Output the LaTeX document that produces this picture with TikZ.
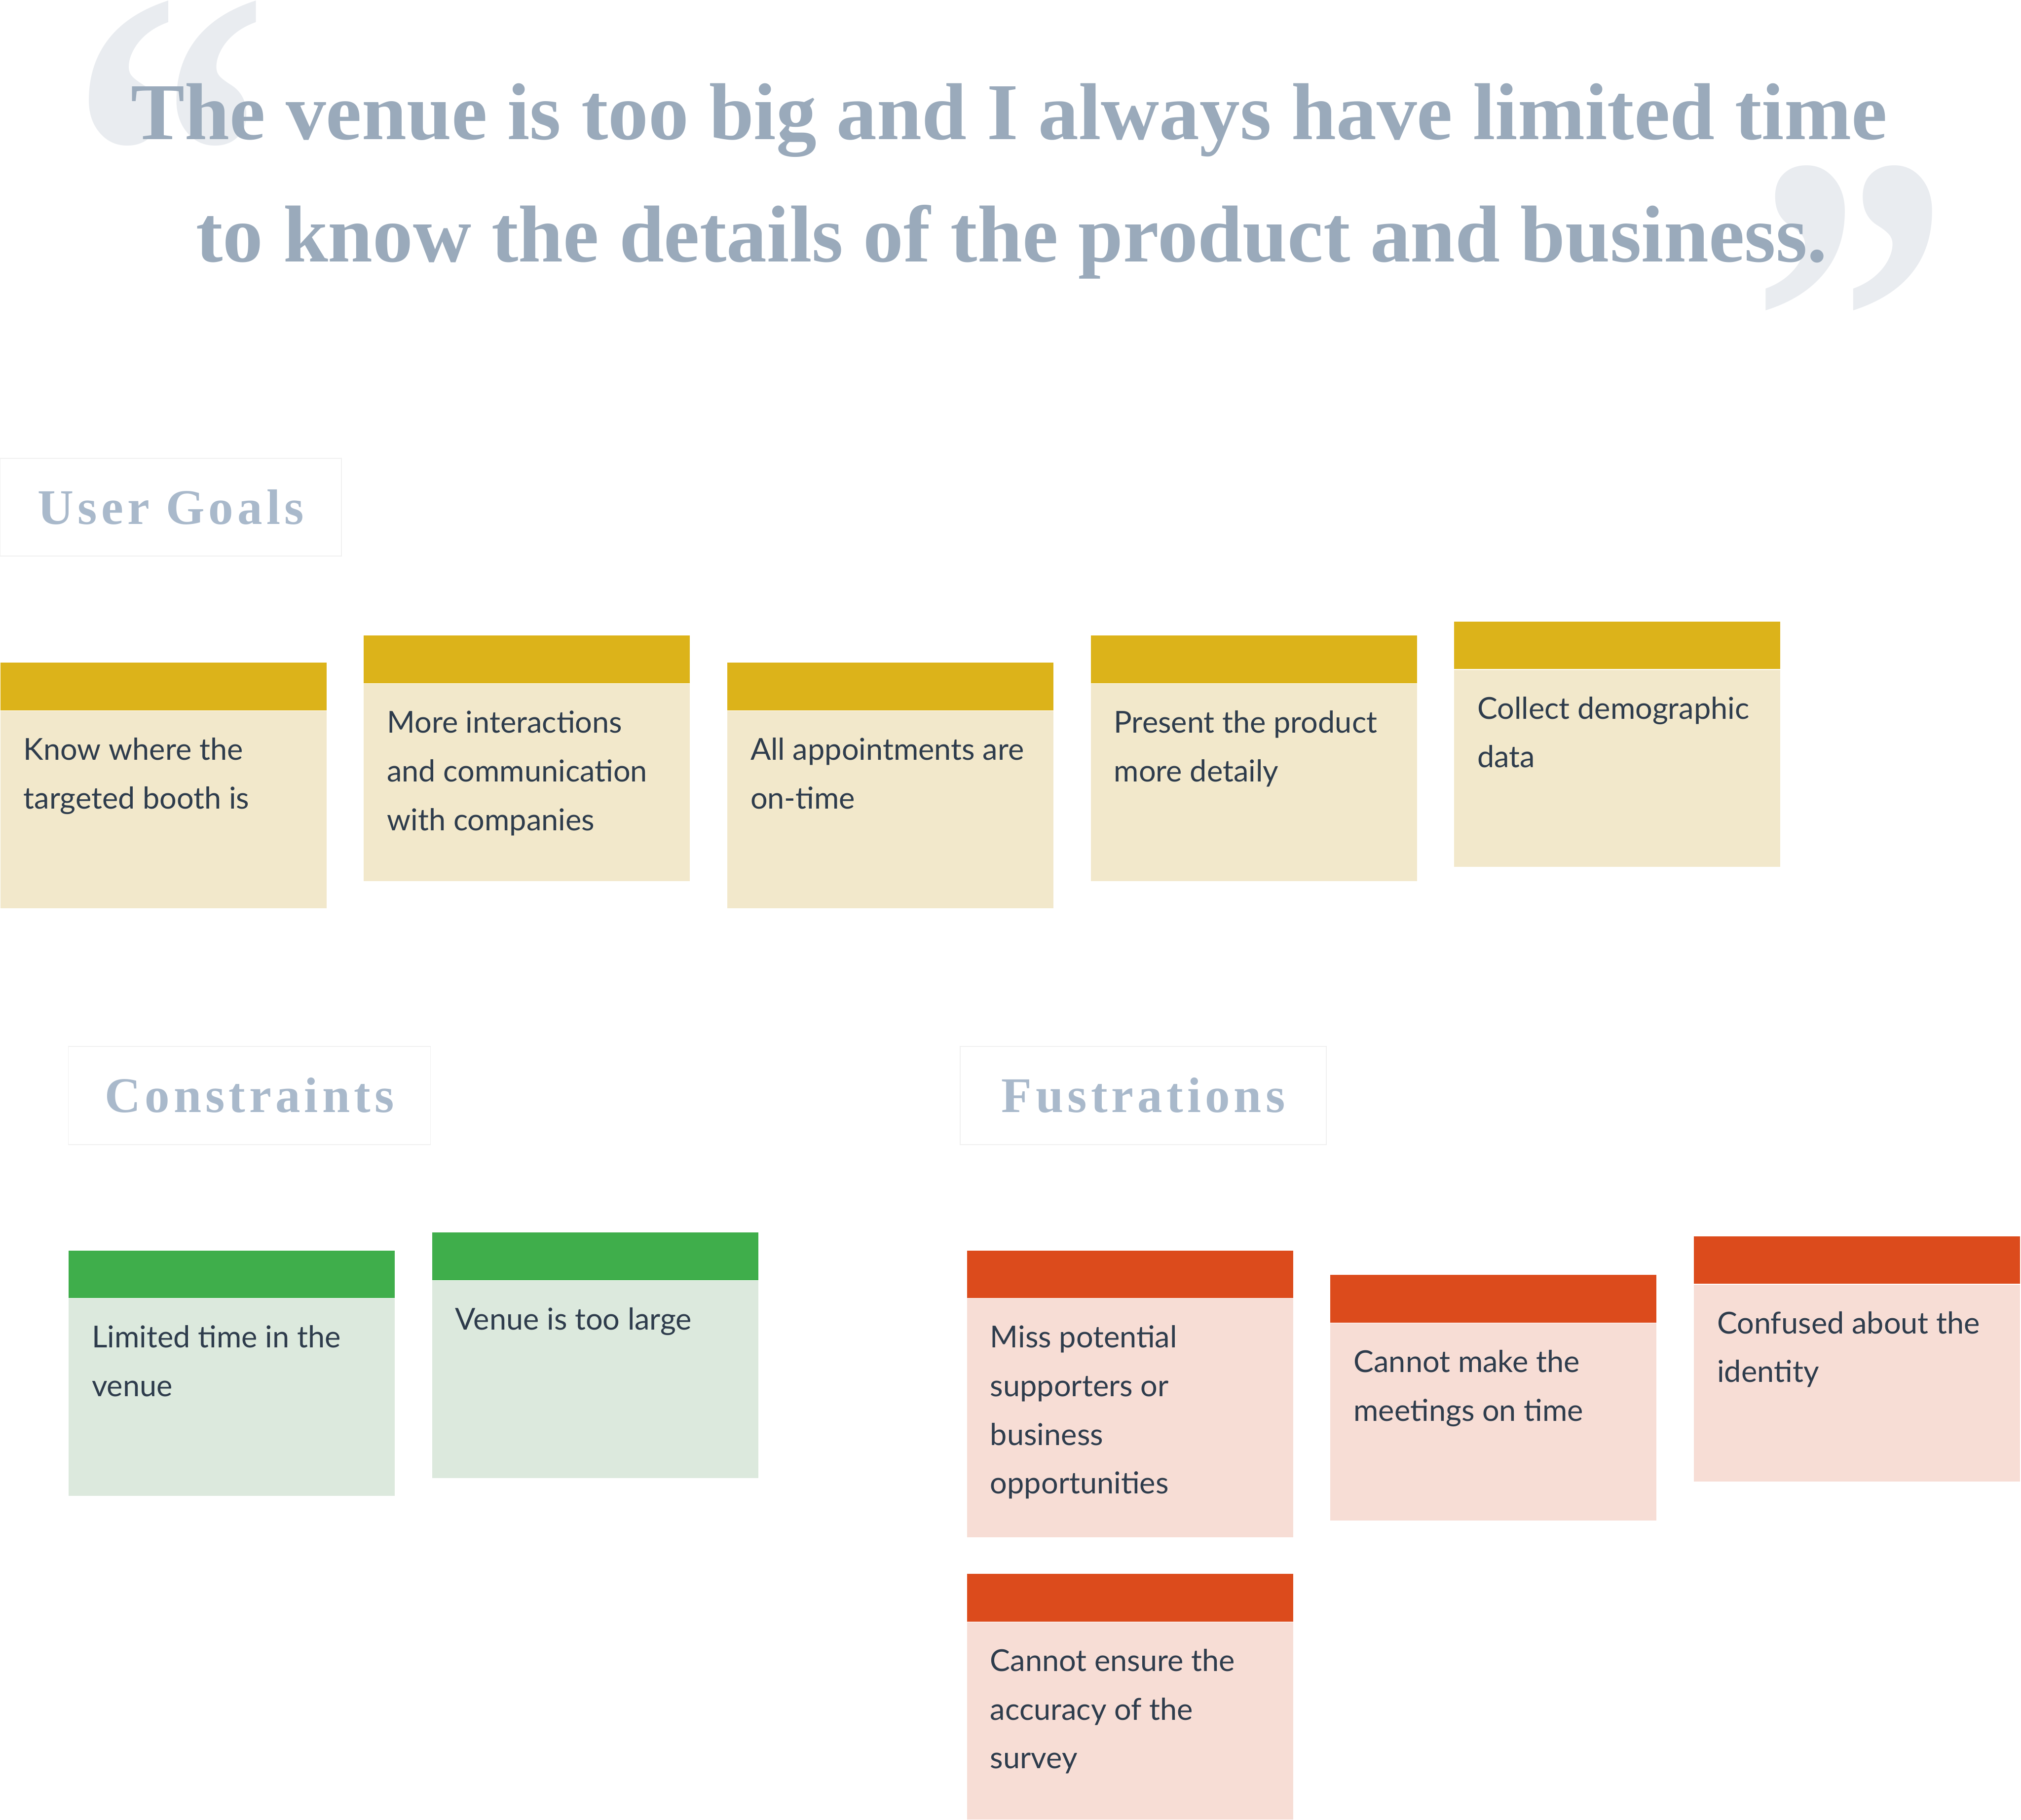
\documentclass[tikz,border=0pt]{standalone}
\usepackage{fontspec}
\usetikzlibrary{positioning}
\usepackage{xcolor}
\newfontfamily\latofont{Lato}
\newfontfamily\quotefont{Liberation Serif}
\newfontfamily\spacedfont{Liberation Serif}[LetterSpace=8]
\definecolor{goalgold}{HTML}{DCB31A}
\definecolor{goalcream}{HTML}{F2E8CB}
\definecolor{limitgreen}{HTML}{3FAE4B}
\definecolor{limitmint}{HTML}{DCE9DD}
\definecolor{frustred}{HTML}{DC4B1C}
\definecolor{frustpink}{HTML}{F7DDD5}
\definecolor{inkdark}{HTML}{2E3C4C}
\definecolor{titleslate}{HTML}{9AAABB}
\definecolor{headslate}{HTML}{A9B9CB}
\definecolor{quotegray}{HTML}{E9ECF0}
\definecolor{framegray}{HTML}{F0F0F0}

\begin{document}
\begin{tikzpicture}[
  x=0.03cm, y=-0.03cm,
  head/.style={
    rectangle, inner sep=0pt, anchor=north west,
    minimum width=7.59cm, minimum height=1.11cm
  },
  pad/.style={
    rectangle, inner sep=0pt,
    minimum width=7.59cm, minimum height=4.59cm
  },
  note/.style={
    inner sep=0pt, anchor=north west, align=left, text=inkdark,
    font=\latofont\fontsize{20}{32.2}\selectfont
  },
  section/.style={
    rectangle, draw=framegray, line width=0.6pt, inner sep=0pt,
    minimum height=2.28cm, text=headslate,
    font=\spacedfont\bfseries\fontsize{33}{40}\selectfont
  },
  bigquote/.style={
    inner sep=0pt, anchor=base west, text=quotegray,
    font=\quotefont\bfseries\fontsize{264}{264}\selectfont
  },
  title/.style={
    inner sep=0pt, anchor=base, text=titleslate,
    font=\quotefont\bfseries\fontsize{53.4}{60}\selectfont
  }
]
  \fill[white] (0,0) rectangle (1568,1412);
  \useasboundingbox (0,0) rectangle (1568,1412);

  % quote
  \node[bigquote] (qopen) at (53.9,248.4) {\scalebox{1}[1.204]{“}};
  \node[bigquote] (qclose) at (1358.3,376) {\scalebox{1}[1.204]{”}};
  \node[title] (title1) at (783,108) {The venue is too big and I always have limited time};
  \node[title] (title2) at (785,203) {to know the details of the product and business.};

  % section headings
  \node[section, minimum width=7.95cm] (goals) at (132.5,393.5) {User Goals};
  \node[section, minimum width=8.43cm] (limits) at (193.5,850) {Constraints};
  \node[section, minimum width=8.52cm] (frust) at (887,850) {Fustrations};

  % user goals
  \node[head, fill=goalgold] (g1h) at (0,514) {};
  \node[pad, fill=goalcream, below=0pt of g1h] (g1) {};
  \node[note, below right=10pt and 15.4pt of g1.north west] (g1t) {\strut Know where the\\targeted booth is};

  \node[head, fill=goalgold] (g2h) at (282,493) {};
  \node[pad, fill=goalcream, below=0pt of g2h] (g2) {};
  \node[note, below right=10pt and 15.4pt of g2.north west] (g2t) {\strut More interactions\\and communication\\with companies};

  \node[head, fill=goalgold] (g3h) at (564,514) {};
  \node[pad, fill=goalcream, below=0pt of g3h] (g3) {};
  \node[note, below right=10pt and 15.4pt of g3.north west] (g3t) {\strut All appointments are\\on-time};

  \node[head, fill=goalgold] (g4h) at (846,493) {};
  \node[pad, fill=goalcream, below=0pt of g4h] (g4) {};
  \node[note, below right=10pt and 15.4pt of g4.north west] (g4t) {\strut Present the product\\more detaily};

  \node[head, fill=goalgold] (g5h) at (1128,482) {};
  \node[pad, fill=goalcream, below=0pt of g5h] (g5) {};
  \node[note, below right=10pt and 15.4pt of g5.north west] (g5t) {\strut Collect demographic\\data};

  % constraints
  \node[head, fill=limitgreen] (c1h) at (53,970) {};
  \node[pad, fill=limitmint, below=0pt of c1h] (c1) {};
  \node[note, below right=10pt and 15.4pt of c1.north west] (c1t) {\strut Limited time in the\\venue};

  \node[head, fill=limitgreen] (c2h) at (335,956) {};
  \node[pad, fill=limitmint, below=0pt of c2h] (c2) {};
  \node[note, below right=10pt and 15.4pt of c2.north west] (c2t) {\strut Venue is too large};

  % fustrations
  \node[head, fill=frustred] (f1h) at (750,970) {};
  \node[pad, fill=frustpink, minimum height=5.55cm, below=0pt of f1h] (f1) {};
  \node[note, below right=10pt and 15.4pt of f1.north west] (f1t) {\strut Miss potential\\supporters or\\business\\opportunities};

  \node[head, fill=frustred] (f2h) at (1032,989) {};
  \node[pad, fill=frustpink, below=0pt of f2h] (f2) {};
  \node[note, below right=10pt and 15.4pt of f2.north west] (f2t) {\strut Cannot make the\\meetings on time};

  \node[head, fill=frustred] (f3h) at (1314,959) {};
  \node[pad, fill=frustpink, below=0pt of f3h] (f3) {};
  \node[note, below right=10pt and 15.4pt of f3.north west] (f3t) {\strut Confused about the\\identity};

  \node[head, fill=frustred] (f4h) at (750,1221) {};
  \node[pad, fill=frustpink, below=0pt of f4h] (f4) {};
  \node[note, below right=10pt and 15.4pt of f4.north west] (f4t) {\strut Cannot ensure the\\accuracy of the\\survey};
\end{tikzpicture}
\end{document}
